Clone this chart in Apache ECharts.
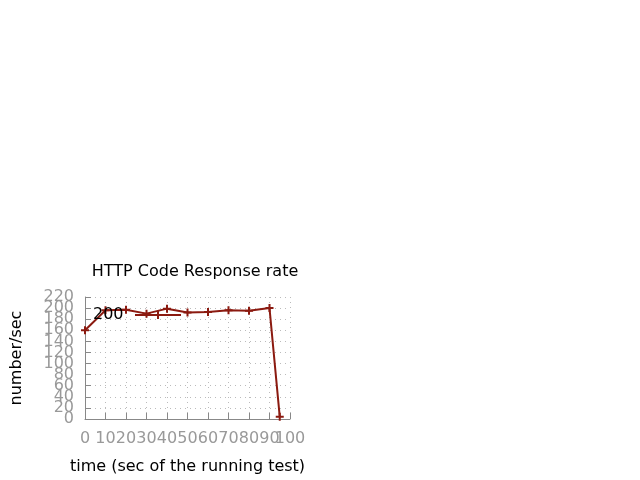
<!DOCTYPE html>
<html><head><meta charset="utf-8">
<script src="https://cdn.jsdelivr.net/npm/echarts@6/dist/echarts.min.js"></script>
<style>html,body{margin:0;padding:0;background:#fff}#c{width:640px;height:480px}</style>
</head><body><div id="c"></div>
<script>
const seriesName = '200';
const timeSec = [0, 10, 20, 30, 40, 50, 60, 70, 80, 90, 95];
const rate = [160, 196, 197, 190, 199, 192, 193, 196, 195, 200, 4];
const xTicks = [0, 10, 20, 30, 40, 50, 60, 70, 80, 90, 100];
const yTicks = [0, 20, 40, 60, 80, 100, 120, 140, 160, 180, 200, 220];

const font = 'DejaVu Sans';
const lineColor = '#8b1a10';
const tickColor = '#999';
const plus = 'path://M-1,-4L1,-4L1,-1L4,-1L4,1L1,1L1,4L-1,4L-1,1L-4,1L-4,-1L-1,-1Z';

const chart = echarts.init(document.getElementById('c'));
chart.setOption({
  animation: false,
  backgroundColor: '#fff',
  title: {
    text: 'HTTP Code Response rate',
    left: 190, top: 259, textAlign: 'center',
    textStyle: {fontFamily: font, fontSize: 16, fontWeight: 'normal', color: '#000'}
  },
  legend: {
    left: 93, top: 307, padding: 0, align: 'right', itemWidth: 46, itemHeight: 10, itemGap: 0,
    data: [{name: seriesName}],
    formatter: '{n|{name}}',
    textStyle: {fontFamily: font, fontSize: 16, color: '#000',
      rich: {n: {width: 37, align: 'left', fontFamily: font, fontSize: 16, color: '#000'}}}
  },
  grid: {left: 85, right: 350, top: 297, bottom: 61, containLabel: false},
  xAxis: {
    type: 'value', min: xTicks[0], max: xTicks[xTicks.length - 1], interval: 10,
    name: 'time (sec of the running test)', nameLocation: 'middle', nameGap: 40,
    nameTextStyle: {fontFamily: font, fontSize: 16, color: '#000'},
    axisLine: {show: true, lineStyle: {color: '#888', width: 1}},
    axisTick: {show: true, inside: true, length: 6, lineStyle: {color: '#888'}},
    axisLabel: {show: false},
    splitLine: {show: true, lineStyle: {type: [1, 4], color: '#bbb', width: 1}}
  },
  yAxis: {
    type: 'value', min: yTicks[0], max: yTicks[yTicks.length - 1], interval: 20,
    name: 'number/sec', nameLocation: 'middle', nameGap: 60, nameRotate: 90,
    nameTextStyle: {fontFamily: font, fontSize: 16, color: '#000'},
    axisLine: {show: true, lineStyle: {color: '#888', width: 1}},
    axisTick: {show: true, inside: true, length: 6, lineStyle: {color: '#888'}},
    axisLabel: {show: false},
    splitLine: {show: true, lineStyle: {type: [1, 4], color: '#bbb', width: 1}}
  },
  series: [{
    name: seriesName, type: 'line',
    data: timeSec.map((t, i) => [t, rate[i]]),
    symbol: plus, symbolSize: 8, showAllSymbol: true,
    lineStyle: {color: lineColor, width: 2},
    itemStyle: {color: lineColor}
  }]
});

// Tick labels drawn as text at the library's own pixel positions (overlap allowed, as in the reference)
const labels = [];
xTicks.forEach(v => {
  const p = chart.convertToPixel({gridIndex: 0}, [v, 0]);
  labels.push({type: 'text', x: p[0], y: p[1] + 12, silent: true,
    style: {text: String(v), fill: tickColor, font: '16px "DejaVu Sans"', textAlign: 'center', textVerticalAlign: 'top'}});
});
yTicks.forEach(v => {
  const p = chart.convertToPixel({gridIndex: 0}, [0, v]);
  labels.push({type: 'text', x: p[0] - 11, y: p[1], silent: true,
    style: {text: String(v), fill: tickColor, font: '16px "DejaVu Sans"', textAlign: 'right', textVerticalAlign: 'middle'}});
});
chart.setOption({graphic: labels});
</script></body></html>
